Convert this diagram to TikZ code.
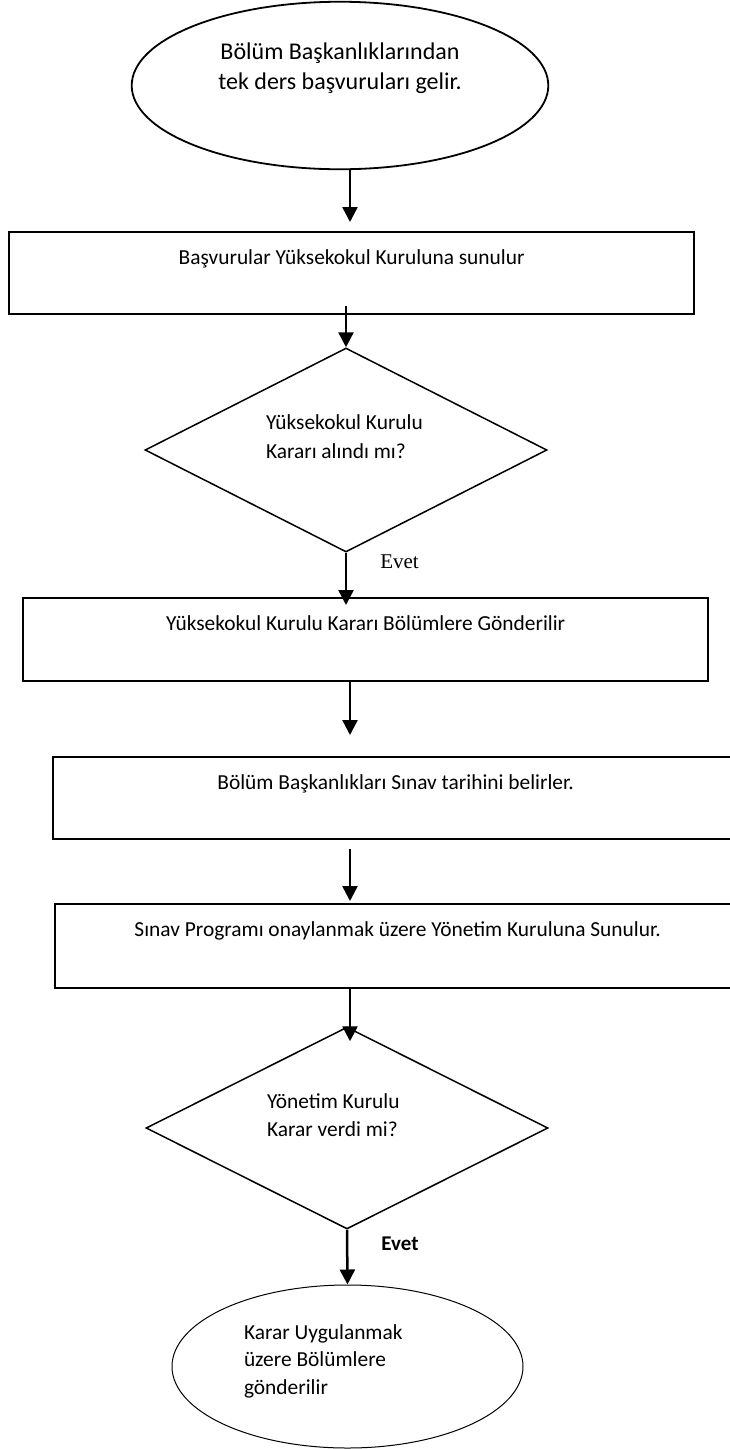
\documentclass[tikz,border=0pt]{standalone}
\usepackage{fontspec}
\setmainfont{Carlito}
\newfontfamily\evetserif{Liberation Serif}
\usetikzlibrary{shapes.geometric,arrows.meta,calc}
\begin{document}
\begin{tikzpicture}[x=1pt,y=-1pt,
  boxnode/.style={draw, line width=2pt, rectangle, inner sep=0pt,
    minimum width=684.7pt, text height=32.3pt, font=\fontsize{21.4}{28}\selectfont},
  decision/.style={draw, line width=1.5pt, diamond, inner sep=0pt,
    minimum width=402pt, font=\fontsize{21.4}{28.5}\selectfont},
  terminal/.style={draw, ellipse, inner sep=0pt},
  arr/.style={line width=2.5pt, -{Triangle[width=15pt,length=15pt]}},
  lbl/.style={inner sep=0pt, font=\fontsize{21}{25}\selectfont}
]
\useasboundingbox (0,0) rectangle (730,1449);
\clip (0,0) rectangle (730,1449);
\coordinate (colA) at (350,0);

% start
\node[terminal, line width=1.8pt, minimum width=416.6pt, minimum height=167.5pt,
  font=\fontsize{24}{30}\selectfont] (e1) at (340,85.5)
  {\raisebox{10.5pt}[0pt][0pt]{\begin{tabular}{@{}c@{}}Bölüm Başkanlıklarından\\tek ders başvuruları gelir.\end{tabular}}};

% boxes
\node[boxnode, text depth=49.7pt] (b1) at (351.65,273)
  {Başvurular Yüksekokul Kuruluna sunulur};

\node[decision, minimum height=204pt] (d1) at (346,450)
  {\raisebox{6.5pt}[0pt][0pt]{\makebox[160pt][l]{\begin{tabular}{@{}l@{}}Yüksekokul Kurulu\\Kararı alındı mı?\end{tabular}}}};

\node[boxnode, text depth=50.7pt] (b2) at (365.65,639.5)
  {Yüksekokul Kurulu Kararı Bölümlere Gönderilir};

\node[boxnode, text depth=49.7pt] (b3) at (395.65,798)
  {Bölüm Başkanlıkları Sınav tarihini belirler.};

\node[boxnode, text depth=51.7pt] (b4) at (397.65,946)
  {Sınav Programı onaylanmak üzere Yönetim Kuruluna Sunulur.};

\node[decision, minimum height=202pt] (d2) at (347,1128)
  {\raisebox{6pt}[0pt][0pt]{\makebox[160pt][l]{\begin{tabular}{@{}l@{}}Yönetim Kurulu\\Karar verdi mi?\end{tabular}}}};

\node[terminal, line width=1pt, minimum width=351pt, minimum height=163pt,
  font=\fontsize{21.4}{27.5}\selectfont] (e2) at (347.5,1366.5)
  {\raisebox{0pt}[0pt][0pt]{\makebox[207pt][l]{\begin{tabular}{@{}l@{}}Karar Uygulanmak\\üzere Bölümlere\\gönderilir\end{tabular}}}};

% labels
\node[lbl, font=\fontsize{21}{25}\selectfont\evetserif] (ev1) at (399.5,562) {Evet};
\node[lbl, font=\fontsize{21}{25}\selectfont\bfseries] (ev2) at (400,1244) {Evet};

% connectors
\draw[arr] (e1.south -| colA) -- ($(b1.north -| colA)+(0,-9)$);
\draw[arr] ($(b1.south -| d1.north)+(0,-9)$) -- (d1.north);
\draw[arr] (d1.south) -- ($(b2.north -| d1.south)+(0,8)$);
\draw[arr] (b2.south -| colA) -- ($(b3.north -| colA)+(0,-21)$);
\draw[arr] ($(b3.south -| colA)+(0,9)$) -- ($(b4.north -| colA)+(0,-2)$);
\draw[arr] (b4.south -| colA) -- ($(d2.north -| colA)+(0,15)$);
\draw[arr] (d2.south) -- (e2.north);
\end{tikzpicture}
\end{document}
